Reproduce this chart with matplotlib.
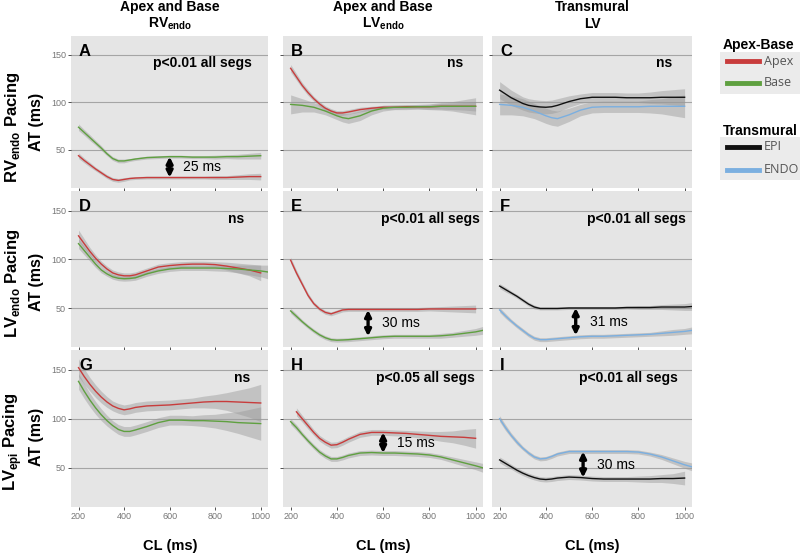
import numpy as np
import matplotlib.pyplot as plt
from matplotlib.patches import Rectangle
from matplotlib.lines import Line2D

plt.rcParams['font.family'] = ['Liberation Sans', 'DejaVu Sans']
plt.rcParams['mathtext.fontset'] = 'custom'
plt.rcParams['mathtext.rm'] = 'Liberation Sans'
plt.rcParams['mathtext.bf'] = 'Liberation Sans:bold'

# cycle length grid (ms)
CL = [200, 225, 250, 275, 300, 325, 350, 375, 400, 425, 450,
      500, 550, 600, 650, 700, 750, 800, 850, 900, 950, 1000]
CL_EXT = CL + [1030]
CL_H_APEX = CL[1:]

# row 1: RVendo pacing
A_APEX = [44, 39, 34.5, 30, 26, 22, 19, 18, 19, 20, 20.5, 21, 21, 21, 21, 21, 21, 21, 21, 21.5, 22, 22]
A_APEX_SE = [3, 2.5, 2.5, 2, 2, 2, 2, 2, 2, 1.5, 1.5, 1.5, 1.5, 1.5, 1.5, 1.5, 1.5, 2, 2, 2.5, 3, 3.5]
A_BASE = [74, 68.5, 63, 57.5, 52, 46, 41, 38.5, 38.5, 39.5, 40.5, 42, 42.5, 43, 43, 42.5, 42.5, 42.5, 43, 43, 43.5, 44]
A_BASE_SE = [3.5, 3, 3, 2.5, 2.5, 2, 2, 2, 2, 1.5, 1.5, 1.5, 1.5, 1.5, 1.5, 1.5, 1.5, 2, 2, 2.5, 3, 3.5]

B_APEX = [136, 127, 118, 110.5, 104, 98.5, 94, 91, 89, 89, 90, 92.5, 94, 95, 95, 95.5, 95.5, 95.5, 96, 96, 96, 96]
B_APEX_SE = [4, 3.5, 3, 3, 2.5, 2.5, 2.5, 2.5, 2.5, 2.5, 2.5, 2.5, 2, 2, 2, 2, 2, 2.5, 3, 3.5, 4, 5]
B_BASE = [98, 97.5, 97, 96, 95, 93, 91, 88.5, 86, 84, 83, 86, 91, 94, 95, 95, 95.5, 95.5, 96, 96, 96, 96]
B_BASE_SE = [10, 8.5, 7, 6, 5, 4.5, 4, 4, 4, 4.5, 5, 5, 4, 3, 2.5, 2.5, 2.5, 3, 4, 5, 7, 9]

C_EPI = [113, 109, 105, 102, 99, 97, 96, 95.3, 95, 95.5, 97, 101, 104, 105.5, 105.5, 105.5, 105, 105, 105, 105.5, 105.5, 105.5]
C_EPI_SE = [9, 8.5, 8, 7.5, 7, 7, 7, 7, 7, 7, 7, 6, 5, 5, 5, 5, 5, 5, 6, 7, 8, 9]
C_ENDO = [98, 97.5, 97, 96, 95, 93, 91, 88.5, 86, 84, 83, 87, 92, 95, 95.5, 95.5, 95.5, 95.5, 96, 96, 96, 96]
C_ENDO_SE = [11, 10.5, 10, 9.5, 9, 8.5, 8, 8, 8, 8, 8, 7, 6, 6, 6, 6, 6, 6, 7, 8, 10, 12]

# row 2: LVendo pacing
D_APEX = [124, 116, 108, 101, 95, 90, 86, 84, 83, 83, 84, 88, 92, 93.5, 94.5, 95, 95, 94.5, 93, 91, 89, 86]
D_APEX_SE = [6, 5, 4, 3.5, 3, 3, 3, 3, 3, 3, 3, 3, 3, 3, 3, 3, 3, 3, 4, 5, 6, 8]
D_BASE = [116, 109, 102, 95, 89, 85, 82, 80.5, 80, 80.3, 81, 85, 88, 90, 91, 91, 91, 91, 90.5, 90, 89, 88, 87]
D_BASE_SE = [5, 4.5, 4, 3.5, 3, 2.5, 2.5, 2.5, 2.5, 2.5, 2.5, 2.5, 2.5, 2.5, 2.5, 2.5, 2.5, 3, 3, 4, 5, 6, 7]

E_APEX = [99, 86, 74.5, 63, 54.5, 49, 45.5, 44, 46, 48, 48.5, 48.5, 48.5, 48.5, 48.5, 48.5, 48.5, 49, 49, 49, 49, 49]
E_APEX_SE = [3, 3, 2.5, 2.5, 2, 2, 2, 2, 2, 2, 2, 2, 2, 2, 2, 2, 2, 2, 2.5, 3, 3.5, 4]
E_BASE = [47, 41.5, 36, 31, 26.5, 22.5, 19.5, 17.5, 17, 17.2, 17.5, 18.5, 19.5, 20.5, 21, 21, 21, 21, 21.5, 22.5, 24, 25.5, 27]
E_BASE_SE = [2.5, 2.5, 2, 2, 2, 2, 2, 2, 2, 2, 2, 2, 2, 2, 2, 2, 2, 2, 2.5, 2.5, 3, 3.5, 4]

F_EPI = [72.5, 69, 65.5, 62, 58, 54, 51, 49.5, 49.5, 49.5, 49.5, 50, 50, 50, 50, 50, 50.5, 50.5, 50.5, 51, 51, 51, 51.5]
F_EPI_SE = [2.5, 2.5, 2, 2, 2, 2, 2, 1.5, 1.5, 1.5, 1.5, 1.5, 1.5, 1.5, 1.5, 1.5, 1.5, 2, 2, 2.5, 3, 3.5, 4]
F_ENDO = [48, 42, 36.5, 31.5, 27, 22.5, 19, 17.5, 17.5, 18, 18.5, 19.5, 20.5, 21, 21, 21.5, 22, 22.5, 23, 24, 25, 26, 27]
F_ENDO_SE = [2.5, 2.5, 2, 2, 2, 2, 2, 2, 2, 2, 2, 2, 2, 2, 2, 2, 2, 2, 2, 2.5, 3, 3, 3.5]

# row 3: LVepi pacing
G_APEX = [152, 143, 135, 128, 122, 117, 113, 110.5, 109, 110, 111.5, 113, 113.5, 114, 115, 116, 117, 117.5, 117.5, 117, 116.5, 116]
G_APEX_SE = [9, 8, 7, 6.5, 6, 5.5, 5, 5, 5, 5, 5, 5, 5, 5, 5, 5, 6, 7, 9, 12, 15, 19]
G_BASE = [138, 128, 119, 111, 104, 98, 93, 89, 87, 87, 88.5, 92, 96, 98.5, 98.5, 98, 98, 97.5, 97, 96, 95.5, 95]
G_BASE_SE = [8, 7.5, 7, 6.5, 6, 5.5, 5, 5, 5, 5, 5, 5, 5, 5, 5, 5, 6, 7, 9, 11, 14, 17]

H_APEX = [107, 100, 93, 86, 80, 76, 73, 73.5, 76, 79, 84, 86, 86, 85.5, 85, 84, 83, 82, 81.5, 81, 80]
H_APEX_SE = [4, 3.5, 3.5, 3, 3, 3, 3, 3, 3, 3, 3, 3, 3, 3, 3, 3.5, 4, 5, 6, 8, 10]
H_BASE = [97, 91, 84, 77.5, 71.5, 66, 62, 59, 59, 60.5, 62.5, 65, 65.5, 65, 65, 64.5, 64, 63, 61, 58, 55, 52, 50]
H_BASE_SE = [3, 3, 2.5, 2.5, 2.5, 2.5, 2.5, 2.5, 2.5, 2.5, 2.5, 2.5, 2.5, 2.5, 2.5, 2.5, 2.5, 2.5, 2.5, 3, 3.5, 4, 4.5]

I_EPI = [58, 54.5, 51, 47.5, 44.5, 42, 40, 38.5, 38, 38.5, 39.5, 40.5, 40, 39, 38.5, 38.5, 38.5, 38.5, 38.5, 39, 39, 39.5]
I_EPI_SE = [3, 3, 2.5, 2.5, 2.5, 2.5, 2.5, 2.5, 2.5, 2.5, 2.5, 2.5, 2.5, 2.5, 2.5, 2.5, 2.5, 3, 3.5, 4, 5, 7]
I_ENDO = [100, 91, 83, 76, 70, 65, 61, 59, 59.5, 61.5, 64, 66.5, 66.5, 66.5, 66.5, 66.5, 66.5, 66, 64, 61, 57, 53, 51]
I_ENDO_SE = [3, 3, 2.5, 2.5, 2, 2, 2, 2, 2, 2, 2, 2, 2, 2, 2, 2, 2, 2, 2, 2.5, 3, 3.5, 4]

RED = '#C83C3C'
GREEN = '#5FA040'
BLUE = '#7BAFE0'
BLACK = '#111111'

P_TEXT = ['p<0.01 all segs', 'ns', 'ns',
          'ns', 'p<0.01 all segs', 'p<0.01 all segs',
          'ns', 'p<0.05 all segs', 'p<0.01 all segs']
P_X = [0.92, 0.90, 0.90, 0.88, 0.985, 0.97, 0.91, 0.96, 0.93]
LETTERS = list('ABCDEFGHI')

# difference arrows: panel index -> (CL, low, high, label)
ARROWS = {0: (600, 21, 43, '25 ms'), 4: (535, 21, 48, '30 ms'), 5: (529, 22, 50, '31 ms'),
          7: (600, 65, 86, '15 ms'), 8: (561, 40, 66.5, '30 ms')}

SERIES = [
    [(CL, A_APEX, A_APEX_SE, RED), (CL, A_BASE, A_BASE_SE, GREEN)],
    [(CL, B_APEX, B_APEX_SE, RED), (CL, B_BASE, B_BASE_SE, GREEN)],
    [(CL, C_EPI, C_EPI_SE, BLACK), (CL, C_ENDO, C_ENDO_SE, BLUE)],
    [(CL, D_APEX, D_APEX_SE, RED), (CL_EXT, D_BASE, D_BASE_SE, GREEN)],
    [(CL, E_APEX, E_APEX_SE, RED), (CL_EXT, E_BASE, E_BASE_SE, GREEN)],
    [(CL_EXT, F_EPI, F_EPI_SE, BLACK), (CL_EXT, F_ENDO, F_ENDO_SE, BLUE)],
    [(CL, G_APEX, G_APEX_SE, RED), (CL, G_BASE, G_BASE_SE, GREEN)],
    [(CL_H_APEX, H_APEX, H_APEX_SE, RED), (CL_EXT, H_BASE, H_BASE_SE, GREEN)],
    [(CL, I_EPI, I_EPI_SE, BLACK), (CL_EXT, I_ENDO, I_ENDO_SE, BLUE)],
]

W, H = 800, 554
fig = plt.figure(figsize=(8, 5.54), dpi=100)

COL_LEFT = [71, 283, 492]
COL_W = [197, 200, 200]
ROW_TOP = [36, 191, 350]
ROW_H = [152, 156, 157]

for i in range(9):
    r, c = divmod(i, 3)
    ax = fig.add_axes([COL_LEFT[c] / W, 1 - (ROW_TOP[r] + ROW_H[r]) / H, COL_W[c] / W, ROW_H[r] / H])
    ax.set_facecolor('#E5E5E5')
    for s in ax.spines.values():
        s.set_visible(False)
    for x, y, se, col in SERIES[i]:
        y = np.array(y, float)
        se = np.array(se, float)
        ax.fill_between(x, y - se, y + se, color='#999999', alpha=0.45, lw=0)
    for x, y, se, col in SERIES[i]:
        ax.plot(x, y, color=col, lw=1, solid_joinstyle='round')
    ax.set_xlim(167, 1032)
    ax.set_ylim(10, 170)
    ax.set_yticks([50, 100, 150])
    ax.set_xticks([200, 400, 600, 800, 1000])
    ax.yaxis.grid(True, color='#A5A5A5', lw=0.8)
    ax.set_axisbelow(True)
    ax.tick_params(length=2.5, width=0.6, color='#333333', labelsize=6.5,
                   labelcolor='#777777', pad=1)
    if c != 0:
        ax.set_yticklabels([])
    if r != 2:
        ax.set_xticklabels([])
    ax.text(0.04, 0.9, LETTERS[i], transform=ax.transAxes, fontsize=12,
            fontweight='bold', ha='left', va='center')
    ax.text(P_X[i], 0.82, P_TEXT[i], transform=ax.transAxes, fontsize=10,
            fontweight='bold', ha='right', va='center')
    if i in ARROWS:
        xa, lo, hi, lab = ARROWS[i]
        ax.annotate('', xy=(xa, lo), xytext=(xa, hi),
                    arrowprops=dict(arrowstyle='<|-|>', color='black', lw=2.4,
                                    mutation_scale=9, shrinkA=0, shrinkB=0))
        ax.text(xa + 60, (lo + hi) / 2, lab, fontsize=10, ha='left', va='center')

# column titles
COL_CENTER = [170, 383, 592]
COL_T1 = ['Apex and Base', 'Apex and Base', 'Transmural']
COL_T2 = [r'RV$_{\mathbf{endo}}$', r'LV$_{\mathbf{endo}}$', 'LV']
for cx, t1, t2 in zip(COL_CENTER, COL_T1, COL_T2):
    fig.text(cx / W, 1 - 7 / H, t1, ha='center', va='center', fontsize=10, fontweight='bold')
    fig.text(cx / W, 1 - 24 / H, t2, ha='center', va='center', fontsize=10, fontweight='bold')
    fig.text(cx / W, 1 - 546 / H, 'CL (ms)', ha='center', va='center', fontsize=10.5, fontweight='bold')

# row titles
ROW_LAB = [r'RV$_{\mathbf{endo}}$ Pacing', r'LV$_{\mathbf{endo}}$ Pacing', r'LV$_{\mathbf{epi}}$ Pacing']
ROW_LAB_Y = [127, 283, 442]
AT_Y = [122, 282, 437]
for lab, ly, ay in zip(ROW_LAB, ROW_LAB_Y, AT_Y):
    fig.text(13 / W, 1 - ly / H, lab, rotation=90, ha='center', va='center',
             fontsize=12, fontweight='bold')
    fig.text(37 / W, 1 - ay / H, 'AT (ms)', rotation=90, ha='center', va='center',
             fontsize=11.5, fontweight='bold')

# legends
def legend_block(title, title_y, box_top, box_bot, entries):
    fig.text(723 / W, 1 - title_y / H, title, ha='left', va='center', fontsize=10, fontweight='bold')
    fig.add_artist(Rectangle((720 / W, 1 - box_bot / H), 80 / W, (box_bot - box_top) / H,
                             transform=fig.transFigure, color='#EBEBEB', lw=0))
    for name, col, ey in entries:
        fig.add_artist(Line2D([727 / W, 759 / W], [1 - ey / H] * 2, color=col, lw=3.5,
                              transform=fig.transFigure))
        fig.text(764 / W, 1 - ey / H, name, ha='left', va='center', fontsize=9,
                 color='#555555', family='Open Sans')

legend_block('Apex-Base', 45, 52, 94, [('Apex', RED, 61), ('Base', GREEN, 83)])
legend_block('Transmural', 131, 137, 180, [('EPI', BLACK, 147), ('ENDO', BLUE, 170)])

fig.savefig('out.png', dpi=100)
